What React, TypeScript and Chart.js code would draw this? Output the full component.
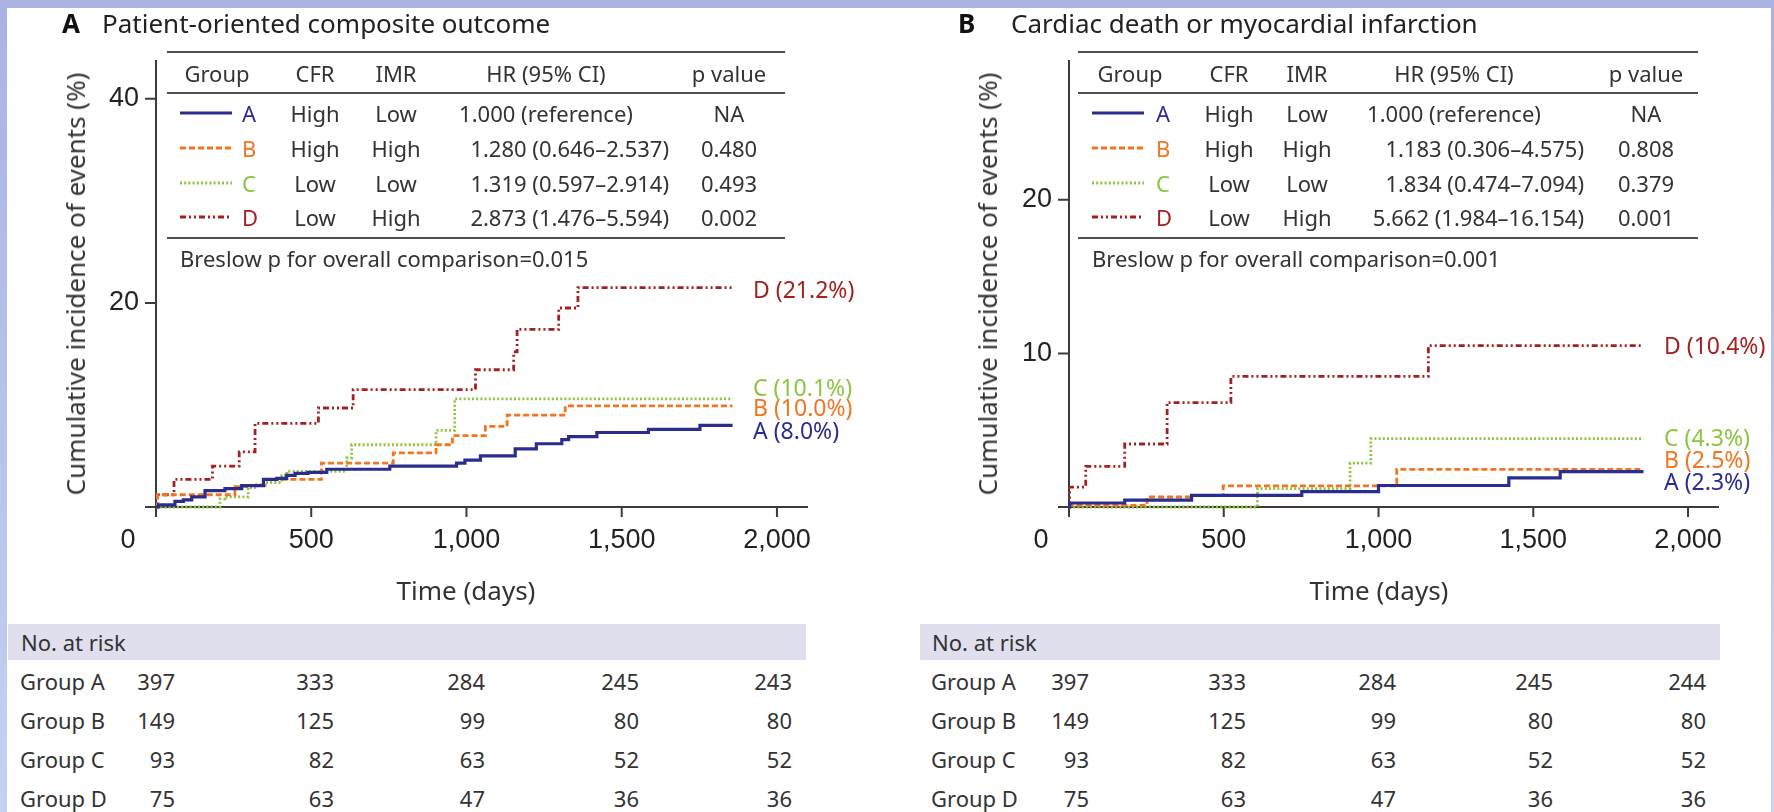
import React, { useEffect, useRef } from "react";
import { Chart, registerables } from "chart.js";

Chart.register(...registerables);

// ---------- Data: Panel A (patient-oriented composite outcome) ----------
const aGroupADays = [0, 8, 61, 88, 115, 158, 222, 276, 346, 389, 421, 448, 490, 550, 753, 968, 995, 1045, 1157, 1225, 1307, 1329, 1420, 1586, 1752, 1857];
const aGroupAPct = [0, 0.2, 0.55, 0.7, 1.0, 1.6, 1.8, 2.1, 2.7, 2.8, 3.1, 3.3, 3.4, 3.7, 4.0, 4.3, 4.6, 5.0, 5.7, 6.2, 6.6, 6.9, 7.3, 7.6, 8.0, 8.0];
const aGroupBDays = [0, 4, 254, 292, 351, 533, 764, 902, 955, 1061, 1131, 1318, 1857];
const aGroupBPct = [0, 1.2, 2.0, 2.1, 2.7, 4.3, 5.3, 6.1, 7.0, 7.9, 9.0, 9.9, 9.9];
const aGroupCDays = [0, 206, 222, 297, 324, 351, 405, 421, 614, 630, 902, 962, 1857];
const aGroupCPct = [0, 0.8, 1.0, 1.9, 2.2, 2.4, 3.1, 3.5, 4.8, 6.1, 7.5, 10.6, 10.6];
const aGroupDDays = [0, 4, 58, 182, 268, 319, 523, 635, 1029, 1152, 1163, 1297, 1359, 1857];
const aGroupDPct = [0, 1.2, 2.7, 4.0, 5.4, 8.2, 9.7, 11.5, 13.45, 15.2, 17.4, 19.5, 21.5, 21.5];

// ---------- Data: Panel B (cardiac death or MI) ----------
const bGroupADays = [0, 2, 180, 396, 752, 1000, 1421, 1587, 1856];
const bGroupAPct = [0, 0.26, 0.45, 0.76, 1.0, 1.4, 1.9, 2.3, 2.3];
const bGroupBDays = [0, 2, 252, 396, 498, 1059, 1856];
const bGroupBPct = [0, 0.1, 0.65, 0.75, 1.37, 2.45, 2.45];
const bGroupCDays = [0, 609, 908, 975, 1856];
const bGroupCPct = [0, 1.2, 2.85, 4.45, 4.45];
const bGroupDDays = [0, 2, 54, 180, 317, 523, 1161, 1856];
const bGroupDPct = [0, 1.3, 2.65, 4.1, 6.8, 8.5, 10.5, 10.5];

// ---------- Ticks ----------
const xTickValues = [0, 500, 1000, 1500, 2000];
const yTicksPanelA = [20, 40];
const yTicksPanelB = [10, 20];

// ---------- Tables ----------
const groupNames = ["A", "B", "C", "D"];
const tableHeaders = ["Group", "CFR", "IMR", "HR (95% CI)", "p value"];
const cfrLevels = ["High", "High", "Low", "Low"];
const imrLevels = ["Low", "High", "Low", "High"];
const hrPanelA = ["1.000 (reference)", "1.280 (0.646–2.537)", "1.319 (0.597–2.914)", "2.873 (1.476–5.594)"];
const pPanelA = ["NA", "0.480", "0.493", "0.002"];
const hrPanelB = ["1.000 (reference)", "1.183 (0.306–4.575)", "1.834 (0.474–7.094)", "5.662 (1.984–16.154)"];
const pPanelB = ["NA", "0.808", "0.379", "0.001"];
const breslowPanelA = "Breslow p for overall comparison=0.015";
const breslowPanelB = "Breslow p for overall comparison=0.001";
const endLabelsPanelA = ["A (8.0%)", "B (10.0%)", "C (10.1%)", "D (21.2%)"];
const endLabelsPanelB = ["A (2.3%)", "B (2.5%)", "C (4.3%)", "D (10.4%)"];

// ---------- Numbers at risk ----------
const riskA_GroupA = [397, 333, 284, 245, 243];
const riskA_GroupB = [149, 125, 99, 80, 80];
const riskA_GroupC = [93, 82, 63, 52, 52];
const riskA_GroupD = [75, 63, 47, 36, 36];
const riskB_GroupA = [397, 333, 284, 245, 244];
const riskB_GroupB = [149, 125, 99, 80, 80];
const riskB_GroupC = [93, 82, 63, 52, 52];
const riskB_GroupD = [75, 63, 47, 36, 36];

// ---------- Styles ----------
const groupColors = ["#2b2d8e", "#f37521", "#8cc540", "#a3211f"];
const groupDashes: number[][] = [[], [6, 3], [2, 2.2], [6, 3, 2, 3, 2, 3]];
const groupWidths = [3.2, 2.8, 2.8, 2.8];
const FONT = '"Noto Sans", "Open Sans", sans-serif';
const TICKFONT = '"Liberation Sans", Arial, sans-serif';

const ROW_Y = [113, 148, 183, 217];
const RISK_ROW_Y = [681, 720, 759, 798];

const axesPlugin = (yTicks: number[]) => ({
  id: "kmAxes",
  beforeDatasetsDraw(chart: any) {
    const { ctx, chartArea, scales } = chart;
    const x = scales.x;
    const y = scales.y;
    const x0 = x.getPixelForValue(0);
    const y0 = y.getPixelForValue(0);
    ctx.save();
    ctx.strokeStyle = "#3b3b3b";
    ctx.lineWidth = 2;
    ctx.beginPath();
    ctx.moveTo(x0 - 11, y0);
    ctx.lineTo(chartArea.right, y0);
    ctx.moveTo(x0, chartArea.top);
    ctx.lineTo(x0, y0);
    xTickValues.forEach((v) => {
      const px = x.getPixelForValue(v);
      ctx.moveTo(px, y0);
      ctx.lineTo(px, y0 + 10);
    });
    yTicks.forEach((v) => {
      const py = y.getPixelForValue(v);
      ctx.moveTo(x0 - 11, py);
      ctx.lineTo(x0, py);
    });
    ctx.stroke();
    ctx.fillStyle = "#222";
    ctx.font = "27px " + TICKFONT;
    ctx.textBaseline = "middle";
    ctx.textAlign = "center";
    xTickValues.forEach((v) => {
      const px = v === 0 ? x0 - 28 : x.getPixelForValue(v);
      ctx.fillText(v.toLocaleString("en-US"), px, y0 + 34);
    });
    ctx.textAlign = "right";
    yTicks.forEach((v) => ctx.fillText(String(v), x0 - 17, y.getPixelForValue(v)));
    ctx.restore();
  },
});

type Series = { days: number[]; pct: number[] };

function KMChart(props: {
  series: Series[];
  yMax: number;
  yTicks: number[];
  left: number;
  padding: { left: number; right: number; top: number; bottom: number };
}) {
  const ref = useRef<HTMLCanvasElement>(null);
  useEffect(() => {
    const chart = new Chart(ref.current as HTMLCanvasElement, {
      type: "line",
      data: {
        datasets: props.series.map((s, i) => ({
          label: groupNames[i],
          data: s.days.map((d, k) => ({ x: d, y: s.pct[k] })),
          borderColor: groupColors[i],
          backgroundColor: groupColors[i],
          borderWidth: groupWidths[i],
          borderDash: groupDashes[i],
          borderCapStyle: "butt",
          stepped: "before",
          pointRadius: 0,
          fill: false,
          clip: false,
        })) as any,
      },
      options: {
        responsive: false,
        animation: false,
        events: [],
        layout: { padding: props.padding },
        plugins: { legend: { display: false }, tooltip: { enabled: false }, title: { display: false } },
        scales: {
          x: { type: "linear", min: 0, max: 2100, display: false },
          y: { type: "linear", min: 0, max: props.yMax, display: false },
        },
      },
      plugins: [axesPlugin(props.yTicks)],
    });
    return () => chart.destroy();
  }, []);
  return (
    <canvas
      ref={ref}
      width={887}
      height={600}
      style={{ position: "absolute", left: props.left, top: 0, width: 887, height: 600 }}
    />
  );
}

function T(props: {
  x: number;
  y: number;
  align?: "left" | "center" | "right";
  size?: number;
  color?: string;
  weight?: number;
  family?: string;
  rotate?: boolean;
  children: React.ReactNode;
}) {
  const align = props.align || "left";
  const tx = align === "left" ? "0" : align === "center" ? "-50%" : "-100%";
  return (
    <div
      style={{
        position: "absolute",
        left: props.x,
        top: props.y,
        transform: props.rotate ? "translate(-50%, -50%) rotate(-90deg)" : `translate(${tx}, -50%)`,
        fontSize: props.size || 22,
        lineHeight: 1,
        color: props.color || "#333",
        fontWeight: props.weight || 400,
        fontFamily: props.family || FONT,
        whiteSpace: "nowrap",
      }}
    >
      {props.children}
    </div>
  );
}

function LegendSample(props: { x: number; y: number; i: number }) {
  return (
    <svg style={{ position: "absolute", left: props.x, top: props.y - 5 }} width={52} height={10}>
      <line
        x1={0}
        y1={5}
        x2={52}
        y2={5}
        stroke={groupColors[props.i]}
        strokeWidth={props.i === 0 ? 3.2 : 2.8}
        strokeDasharray={groupDashes[props.i].length ? groupDashes[props.i].join(" ") : undefined}
      />
    </svg>
  );
}

type PanelLayout = {
  letter: string;
  title: string;
  letterX: number;
  titleX: number;
  yTitleX: number;
  ruleX1: number;
  ruleX2: number;
  legendX: number;
  letterColX: number;
  groupHdrX: number;
  cfrX: number;
  imrX: number;
  hrHdrX: number;
  hrRightX: number;
  pX: number;
  endLabelX: number;
  endLabelYs: number[];
  bandX1: number;
  bandX2: number;
  riskLabelX: number;
  riskRights: number[];
  timeX: number;
};

function PanelText(props: {
  L: PanelLayout;
  hr: string[];
  p: string[];
  breslow: string;
  endLabels: string[];
  risk: number[][];
}) {
  const { L } = props;
  const rule = (y: number) => (
    <div
      style={{ position: "absolute", left: L.ruleX1, top: y - 1.25, width: L.ruleX2 - L.ruleX1, height: 2.5, background: "#505050" }}
    />
  );
  return (
    <>
      <T x={L.letterX} y={23} size={26} weight={700} color="#111">{L.letter}</T>
      <T x={L.titleX} y={23} size={26} color="#222">{L.title}</T>
      <T x={L.yTitleX} y={284} size={26} color="#333" rotate>Cumulative incidence of events (%)</T>
      <T x={L.timeX} y={590} size={26} align="center" color="#333">Time (days)</T>
      {rule(52)}
      {rule(93)}
      {rule(238)}
      <T x={L.groupHdrX} y={73} align="center">{tableHeaders[0]}</T>
      <T x={L.cfrX} y={73} align="center">{tableHeaders[1]}</T>
      <T x={L.imrX} y={73} align="center">{tableHeaders[2]}</T>
      <T x={L.hrHdrX} y={73} align="center">{tableHeaders[3]}</T>
      <T x={L.pX} y={73} align="center">{tableHeaders[4]}</T>
      {groupNames.map((g, i) => (
        <React.Fragment key={g}>
          <LegendSample x={L.legendX} y={ROW_Y[i]} i={i} />
          <T x={L.letterColX} y={ROW_Y[i]} color={groupColors[i]}>{g}</T>
          <T x={L.cfrX} y={ROW_Y[i]} align="center">{cfrLevels[i]}</T>
          <T x={L.imrX} y={ROW_Y[i]} align="center">{imrLevels[i]}</T>
          {i === 0 ? (
            <T x={L.hrHdrX} y={ROW_Y[i]} align="center">{props.hr[i]}</T>
          ) : (
            <T x={L.hrRightX} y={ROW_Y[i]} align="right">{props.hr[i]}</T>
          )}
          <T x={L.pX} y={ROW_Y[i]} align="center">{props.p[i]}</T>
          <T x={L.endLabelX} y={L.endLabelYs[i]} size={23} color={groupColors[i]}>{props.endLabels[i]}</T>
        </React.Fragment>
      ))}
      <T x={L.legendX} y={258}>{props.breslow}</T>
      <div
        style={{ position: "absolute", left: L.bandX1, top: 624, width: L.bandX2 - L.bandX1, height: 36, background: "#dfdfed" }}
      />
      <T x={L.riskLabelX} y={642}>No. at risk</T>
      {props.risk.map((row, i) => (
        <React.Fragment key={i}>
          <T x={L.riskLabelX - 1} y={RISK_ROW_Y[i]}>{"Group " + groupNames[i]}</T>
          {row.map((n, k) => (
            <T key={k} x={L.riskRights[k]} y={RISK_ROW_Y[i]} align="right">{String(n)}</T>
          ))}
        </React.Fragment>
      ))}
    </>
  );
}

const layoutA: PanelLayout = {
  letter: "A",
  title: "Patient-oriented composite outcome",
  letterX: 62,
  titleX: 102,
  yTitleX: 75,
  ruleX1: 167,
  ruleX2: 785,
  legendX: 180,
  letterColX: 242,
  groupHdrX: 217,
  cfrX: 315,
  imrX: 396,
  hrHdrX: 546,
  hrRightX: 669,
  pX: 729,
  endLabelX: 753,
  endLabelYs: [430, 407, 387, 289],
  bandX1: 8,
  bandX2: 806,
  riskLabelX: 21,
  riskRights: [175, 334, 485, 639, 792],
  timeX: 466,
};

const layoutB: PanelLayout = {
  letter: "B",
  title: "Cardiac death or myocardial infarction",
  letterX: 958,
  titleX: 1011,
  yTitleX: 987,
  ruleX1: 1078,
  ruleX2: 1698,
  legendX: 1092,
  letterColX: 1156,
  groupHdrX: 1130,
  cfrX: 1229,
  imrX: 1307,
  hrHdrX: 1454,
  hrRightX: 1584,
  pX: 1646,
  endLabelX: 1664,
  endLabelYs: [481, 459, 437, 345],
  bandX1: 920,
  bandX2: 1720,
  riskLabelX: 932,
  riskRights: [1089, 1246, 1396, 1553, 1706],
  timeX: 1379,
};

export default function App() {
  const seriesA: Series[] = [
    { days: aGroupADays, pct: aGroupAPct },
    { days: aGroupBDays, pct: aGroupBPct },
    { days: aGroupCDays, pct: aGroupCPct },
    { days: aGroupDDays, pct: aGroupDPct },
  ];
  const seriesB: Series[] = [
    { days: bGroupADays, pct: bGroupAPct },
    { days: bGroupBDays, pct: bGroupBPct },
    { days: bGroupCDays, pct: bGroupCPct },
    { days: bGroupDDays, pct: bGroupDPct },
  ];
  return (
    <div
      style={{
        position: "absolute",
        left: 0,
        top: 0,
        width: 1774,
        height: 812,
        overflow: "hidden",
        background: "#ffffff",
        fontFamily: FONT,
      }}
    >
      <KMChart series={seriesA} yMax={43.8} yTicks={yTicksPanelA} left={0} padding={{ left: 156, right: 79, top: 60, bottom: 93 }} />
      <KMChart series={seriesB} yMax={29.1} yTicks={yTicksPanelB} left={887} padding={{ left: 182, right: 55, top: 60, bottom: 93 }} />
      <PanelText
        L={layoutA}
        hr={hrPanelA}
        p={pPanelA}
        breslow={breslowPanelA}
        endLabels={endLabelsPanelA}
        risk={[riskA_GroupA, riskA_GroupB, riskA_GroupC, riskA_GroupD]}
      />
      <PanelText
        L={layoutB}
        hr={hrPanelB}
        p={pPanelB}
        breslow={breslowPanelB}
        endLabels={endLabelsPanelB}
        risk={[riskB_GroupA, riskB_GroupB, riskB_GroupC, riskB_GroupD]}
      />
      <div style={{ position: "absolute", left: 0, top: 0, width: 1774, height: 8, background: "#aab2e2" }} />
      <div
        style={{
          position: "absolute",
          left: 0,
          top: 0,
          width: 7,
          height: 812,
          background: "linear-gradient(#aab2e2, #c3d2f1)",
        }}
      />
      <div
        style={{
          position: "absolute",
          left: 1771,
          top: 0,
          width: 3,
          height: 812,
          background: "linear-gradient(#aab2e2, #c8d6f2)",
        }}
      />
    </div>
  );
}
